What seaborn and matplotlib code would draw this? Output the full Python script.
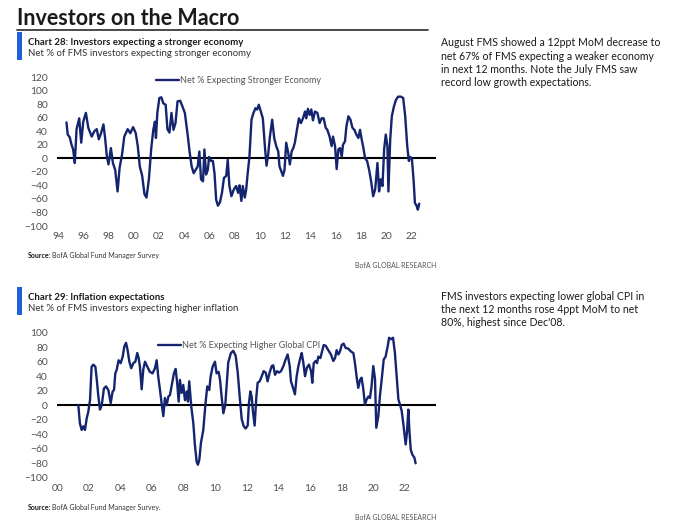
import numpy as np
import pandas as pd
import matplotlib.pyplot as plt
import seaborn as sns
from matplotlib.lines import Line2D
from matplotlib.patches import Rectangle

# ---------------------------------------------------------------------------
# data (decimal years)
# ---------------------------------------------------------------------------
econ_dates = [1994.67, 1994.77, 1994.93, 1995.07, 1995.2, 1995.33, 1995.47, 1995.68, 1995.84,
              1996.0, 1996.21, 1996.4, 1996.67, 1996.88, 1997.07, 1997.23, 1997.41, 1997.6,
              1997.73, 1997.87, 1998.0, 1998.19, 1998.35, 1998.53, 1998.72, 1998.88, 1999.07,
              1999.25, 1999.52, 1999.73, 1999.95, 2000.16, 2000.32, 2000.48, 2000.67, 2000.85,
              2001.01, 2001.2, 2001.39, 2001.55, 2001.68, 2001.76, 2001.87, 2002.03, 2002.19,
              2002.35, 2002.53, 2002.67, 2002.83, 2002.99, 2003.15, 2003.31, 2003.47, 2003.68,
              2003.87, 2004.05, 2004.27, 2004.43, 2004.59, 2004.75, 2004.91, 2005.07, 2005.2,
              2005.33, 2005.49, 2005.6, 2005.73, 2005.87, 2005.97, 2006.13, 2006.27, 2006.4,
              2006.53, 2006.67, 2006.83, 2006.99, 2007.15, 2007.33, 2007.45, 2007.58, 2007.74,
              2007.93, 2008.11, 2008.27, 2008.38, 2008.53, 2008.64, 2008.8, 2008.91, 2009.01,
              2009.17, 2009.33, 2009.49, 2009.65, 2009.78, 2009.91, 2010.07, 2010.23, 2010.39,
              2010.52, 2010.65, 2010.79, 2010.97, 2011.13, 2011.29, 2011.45, 2011.55, 2011.69,
              2011.82, 2011.95, 2012.08, 2012.24, 2012.37, 2012.51, 2012.64, 2012.77, 2012.93,
              2013.09, 2013.25, 2013.41, 2013.57, 2013.67, 2013.8, 2013.94, 2014.07, 2014.2,
              2014.36, 2014.55, 2014.73, 2014.89, 2015.05, 2015.21, 2015.34, 2015.52, 2015.68,
              2015.79, 2015.95, 2016.08, 2016.21, 2016.35, 2016.48, 2016.58, 2016.74, 2016.85,
              2017.01, 2017.17, 2017.33, 2017.48, 2017.64, 2017.8, 2017.93, 2018.07, 2018.2,
              2018.33, 2018.49, 2018.65, 2018.81, 2018.97, 2019.13, 2019.31, 2019.44, 2019.57,
              2019.71, 2019.84, 2019.97, 2020.1, 2020.18, 2020.32, 2020.45, 2020.61, 2020.77,
              2020.95, 2021.16, 2021.35, 2021.51, 2021.67, 2021.8, 2021.91, 2022.04, 2022.17,
              2022.28, 2022.41, 2022.51, 2022.62]
econ_values = [53, 35, 31, 20, 13, -7, 43, 59, 23,
               54, 67, 45, 32, 40, 43, 28, 37, 50,
               30, 3, -9, 15, -7, -17, -49, -14, 5,
               32, 43, 37, 46, 37, 18, -12, -26, -53,
               -58, -31, 15, 42, 54, 30, 67, 89, 90,
               81, 79, 43, 38, 67, 42, 52, 84, 85,
               76, 67, 35, 9, -12, -22, -17, -12, 10,
               -31, -34, 13, -24, -17, 2, -4, -4, -22,
               -61, -70, -65, -51, -29, -26, -2, -41, -56,
               -46, -41, -51, -40, -63, -41, -58, -46, -26,
               3, 57, 67, 74, 72, 79, 69, 59, 18,
               -11, 5, 32, 57, 30, 18, 10, -12, -19,
               -26, -17, 23, 8, -9, 10, 15, 23, 42,
               59, 52, 59, 69, 59, 73, 64, 72, 56,
               69, 67, 52, 59, 59, 45, 42, 32, 18,
               32, 18, -16, 13, 15, 2, 20, 25, 47,
               62, 57, 45, 42, 35, 30, 42, 27, 15,
               0, -4, -17, -34, -56, -46, -7, -49, -31,
               -41, 13, 35, 18, -49, 27, 62, 76, 86,
               91, 91, 89, 62, 18, -4, 2, -1, -31,
               -66, -70, -76, -67]

cpi_dates = [2001.33, 2001.43, 2001.54, 2001.65, 2001.75, 2001.86, 2001.96, 2002.07, 2002.17,
             2002.28, 2002.41, 2002.49, 2002.59, 2002.7, 2002.81, 2002.95, 2003.08, 2003.23,
             2003.38, 2003.5, 2003.59, 2003.67, 2003.76, 2003.88, 2004.01, 2004.14, 2004.24,
             2004.35, 2004.45, 2004.56, 2004.68, 2004.81, 2004.94, 2005.06, 2005.15, 2005.23,
             2005.34, 2005.44, 2005.55, 2005.7, 2005.86, 2006.03, 2006.18, 2006.29, 2006.39,
             2006.5, 2006.6, 2006.71, 2006.81, 2006.92, 2007.03, 2007.13, 2007.26, 2007.38,
             2007.49, 2007.59, 2007.68, 2007.76, 2007.87, 2007.97, 2008.08, 2008.19, 2008.27,
             2008.35, 2008.48, 2008.61, 2008.71, 2008.82, 2008.9, 2008.99, 2009.09, 2009.24,
             2009.37, 2009.49, 2009.62, 2009.7, 2009.83, 2009.98, 2010.08, 2010.21, 2010.3,
             2010.4, 2010.51, 2010.63, 2010.82, 2010.99, 2011.14, 2011.29, 2011.42, 2011.54,
             2011.67, 2011.8, 2011.92, 2012.05, 2012.13, 2012.22, 2012.3, 2012.39, 2012.49,
             2012.6, 2012.68, 2012.81, 2012.94, 2013.06, 2013.19, 2013.31, 2013.44, 2013.57,
             2013.67, 2013.78, 2013.91, 2014.03, 2014.16, 2014.31, 2014.45, 2014.58, 2014.71,
             2014.79, 2014.92, 2015.04, 2015.15, 2015.26, 2015.38, 2015.47, 2015.57, 2015.68,
             2015.8, 2015.93, 2016.06, 2016.14, 2016.23, 2016.35, 2016.44, 2016.52, 2016.65,
             2016.73, 2016.86, 2016.99, 2017.15, 2017.32, 2017.47, 2017.58, 2017.68, 2017.79,
             2017.89, 2018.0, 2018.12, 2018.25, 2018.42, 2018.59, 2018.74, 2018.84, 2018.97,
             2019.05, 2019.16, 2019.26, 2019.37, 2019.47, 2019.58, 2019.69, 2019.79, 2019.89,
             2020.0, 2020.11, 2020.19, 2020.32, 2020.42, 2020.53, 2020.66, 2020.78, 2020.91,
             2021.0, 2021.12, 2021.25, 2021.37, 2021.48, 2021.59, 2021.69, 2021.8, 2021.92,
             2022.05, 2022.13, 2022.22, 2022.28, 2022.37, 2022.47, 2022.6, 2022.68]
cpi_values = [0, -25, -34, -29, -34, -18, -9, 7, 53,
              56, 53, 37, 14, -6, 0, 23, 26, 21,
              3, 19, 21, 44, 49, 62, 58, 67, 81,
              86, 76, 60, 51, 58, 60, 72, 65, 53,
              22, 49, 60, 53, 46, 44, 51, 62, 39,
              21, 3, -15, 10, 0, 12, 14, 30, 44,
              50, 30, 5, 35, 17, 28, 7, 19, 5,
              33, -2, -25, -55, -78, -82, -75, -52, -34,
              0, 26, 21, 39, 53, 60, 44, 46, 35,
              12, -11, 0, 59, 72, 75, 68, 45, 13,
              -19, -29, -32, -28, 3, 19, 12, -10, -28,
              12, 31, 33, 40, 47, 45, 33, 45, 54,
              55, 42, 47, 45, 47, 54, 63, 70, 54,
              33, 24, 15, 40, 54, 65, 72, 59, 40,
              52, 56, 47, 31, 58, 61, 58, 67, 65,
              72, 83, 82, 76, 70, 61, 65, 76, 70,
              74, 83, 85, 79, 78, 74, 72, 58, 35,
              24, 35, 38, 22, 1, 8, 12, 10, 26,
              54, 36, -31, -15, 13, 35, 63, 67, 81,
              93, 91, 93, 72, 40, 8, 1, -8, -29,
              -54, -38, -6, -33, -61, -68, -72, -80]

econ_xticks = list(range(1994, 2023, 2))
cpi_xticks = list(range(2000, 2023, 2))
econ_yticks = list(range(-100, 121, 20))
cpi_yticks = list(range(-100, 101, 20))
econ_label = "Net % Expecting Stronger Economy"
cpi_label = "Net % Expecting Higher Global CPI"

# ---------------------------------------------------------------------------
# layout helpers (pixel coords, top-left origin)
# ---------------------------------------------------------------------------
W, H = 673, 529
NAVY = "#14246e"
BLUE = "#1f5fd8"
BODY = ["Lato", "DejaVu Sans"]
NARROW = ["Liberation Sans Narrow", "Lato", "DejaVu Sans"]


def box(l, t, r, b):
    return [l / W, 1 - b / H, (r - l) / W, (b - t) / H]


def ptext(x, y, s, **kw):
    fig.text(x / W, 1 - y / H, s, **kw)


sns.set_style("white")
plt.rcParams["font.family"] = BODY

fig = plt.figure(figsize=(W / 100, H / 100), dpi=100)

# header
ptext(17, 25, "Investors on the Macro", fontsize=15.5, fontweight="bold",
      color="#1a1a1a", va="baseline", family=BODY)
fig.add_artist(Line2D([17 / W, 428 / W], [1 - 30 / H, 1 - 30 / H],
                      color="#3a3a3a", lw=1.3))


def panel(top, title, sub, dates, values, label, xticks, yticks, xlim, ylim, rect, leg_xy,
          note, note_y, src):
    fig.add_artist(Rectangle((17 / W, 1 - (top + 28) / H), 4.5 / W, 28 / H,
                             color=BLUE, lw=0))
    ptext(27.5, top + 10.5, title, fontsize=6.9, fontweight="bold", color="#1a1a1a",
          va="center", family=NARROW)
    ptext(27.5, top + 21.5, sub, fontsize=6.9, color="#333333", va="center", family=NARROW)

    ax = fig.add_axes(rect)
    df = pd.DataFrame({"date": dates, "value": values})
    sns.lineplot(data=df, x="date", y="value", ax=ax, color=NAVY, linewidth=1.7,
                 label=label)
    ax.axhline(0, color="black", lw=1.5, zorder=1)
    ax.set_xlim(*xlim)
    ax.set_ylim(*ylim)
    ax.set_xticks(xticks)
    ax.set_xticklabels([f"{t % 100:02d}" for t in xticks])
    ax.set_yticks(yticks)
    ax.set_xlabel("")
    ax.set_ylabel("")
    sns.despine(ax=ax, left=True, bottom=True)
    ax.tick_params(axis="both", length=0, labelsize=7.4, colors="#505050")
    ax.tick_params(axis="x", pad=4.5)
    ax.tick_params(axis="y", pad=6.5)
    ax.grid(False)
    ax.set_facecolor("none")
    leg = ax.legend(loc="center left", bbox_to_anchor=leg_xy, frameon=False, fontsize=6.5,
                    handlelength=2.6, handletextpad=0.1, borderpad=0, borderaxespad=0,
                    labelcolor="#555555")
    for h in leg.get_lines():
        h.set_linewidth(1.7)

    ptext(441, note_y, note, fontsize=7.6, color="#1a1a1a", va="top", linespacing=1.25,
          family=BODY)

    ptext(27.7, src, "Source:", fontsize=5.0, fontweight="bold", color="#1a1a1a",
          va="center", family=NARROW)
    ptext(52.5, src, src_text[title[:8]], fontsize=5.0, color="#333333", va="center",
          family=NARROW)
    ptext(436, src + 10, "BofA GLOBAL RESEARCH", fontsize=5.0, color="#555555",
          va="center", ha="right", family=NARROW)
    return ax


src_text = {"Chart 28": "BofA Global Fund Manager Survey",
            "Chart 29": "BofA Global Fund Manager Survey."}

panel(32, "Chart 28: Investors expecting a stronger economy",
      "Net % of FMS investors expecting stronger economy",
      econ_dates, econ_values, econ_label, econ_xticks, econ_yticks,
      (1993.92, 2023.95), (-100, 120), box(57, 77, 436, 226), (0.261, 0.975),
      "August FMS showed a 12ppt MoM decrease to\nnet 67% of FMS expecting a weaker economy\n"
      "in next 12 months. Note the July FMS saw\nrecord low growth expectations.",
      37.5, 255.5)

panel(287, "Chart 29: Inflation expectations",
      "Net % of FMS investors expecting higher inflation",
      cpi_dates, cpi_values, cpi_label, cpi_xticks, cpi_yticks,
      (1999.98, 2023.97), (-100, 100), box(57, 332.7, 436, 477.8), (0.266, 0.910),
      "FMS investors expecting lower global CPI in\nthe next 12 months rose 4ppt MoM to net\n"
      "80%, highest since Dec'08.",
      290.5, 507.5)

fig.savefig("out.png", dpi=100)
